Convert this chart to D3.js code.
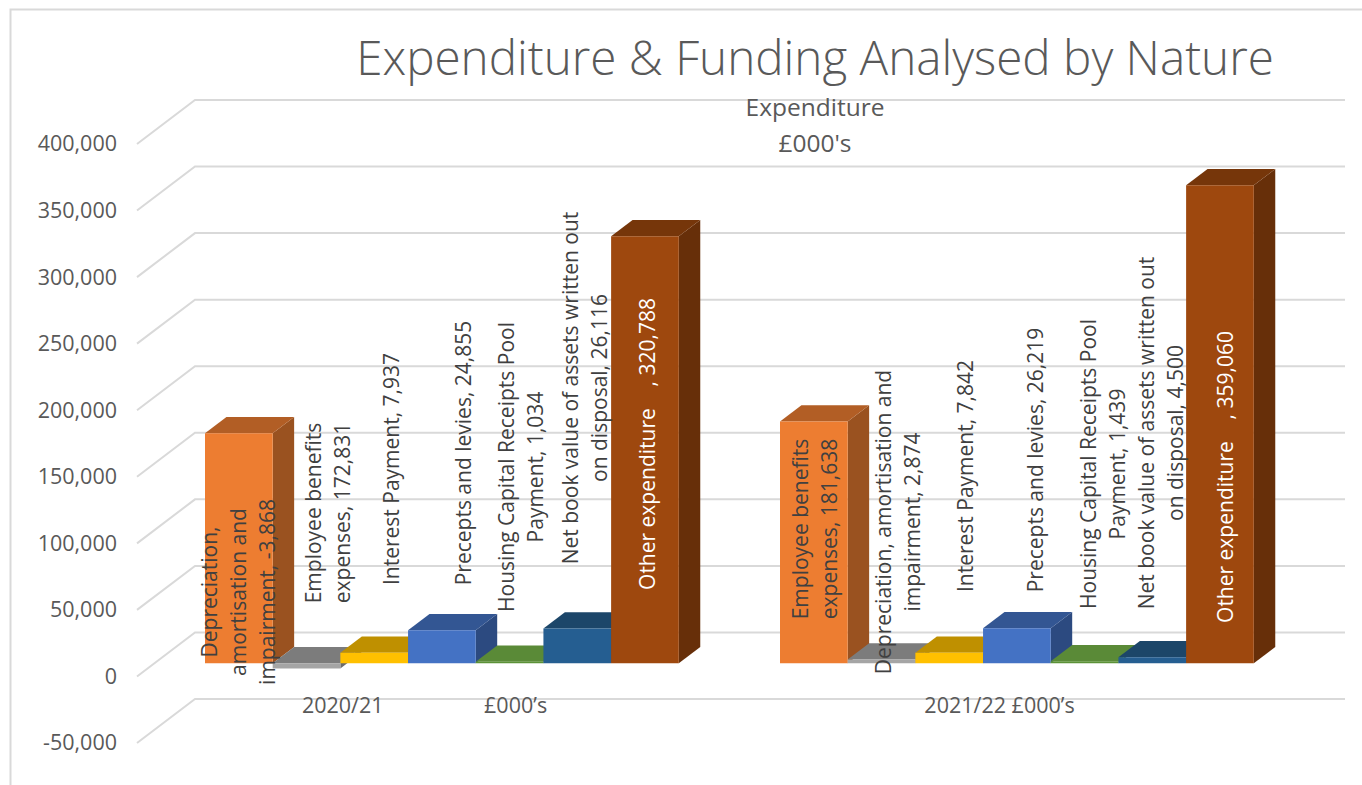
<!DOCTYPE html>
<style>
body { margin: 0; background: #fff; }
svg { display: block; }
text { font-family: "Open Sans", sans-serif; fill: #595959; }
.axis .domain, .axis line { display: none; }
</style>
<svg width="1362" height="785"></svg>
<script src="https://d3js.org/d3.v7.min.js"></script>
<script>

var categories = ["2020/21                  £000’s", "2021/22 £000’s"];
var series = ["Employee benefits", "Depreciation", "Interest", "Precepts", "Housing", "Net book value", "Other"];
var values2021 = [172831, -3868, 7937, 24855, 1034, 26116, 320788];
var values2122 = [181638, 2874, 7842, 26219, 1439, 4500, 359060];
var tickValues = [-50000, 0, 50000, 100000, 150000, 200000, 250000, 300000, 350000, 400000];

// the first two labels of 2020/21 sit on the other bar in the original, kept that way
var labels2021 = [
  ["Depreciation,", "amortisation and", "impairment, -3,868"],
  ["Employee benefits", "expenses, 172,831"],
  ["Interest Payment, 7,937"],
  ["Precepts and levies, 24,855"],
  ["Housing Capital Receipts Pool", "Payment, 1,034"],
  ["Net book value of assets written out", "on disposal, 26,116"],
  ["Other expenditure    , 320,788"]
];
var labels2122 = [
  ["Employee benefits", "expenses, 181,638"],
  ["Depreciation, amortisation and", "impairment, 2,874"],
  ["Interest Payment, 7,842"],
  ["Precepts and levies, 26,219"],
  ["Housing Capital Receipts Pool", "Payment, 1,439"],
  ["Net book value of assets written out", "on disposal, 4,500"],
  ["Other expenditure    , 359,060"]
];

// hand placed labels: x offset from bar centre, y of label centre
var labelDx = [[0, 22, 18, 22, 12, 8, 3], [2, 17, 17, 19, 19, 9, 6]];
var labelY = [[592, 513, 469, 453, 467, 388, 444], [529, 522, 476, 460, 464, 433, 477]];

var frontColors = ["#ed7d31", "#a5a5a5", "#ffc000", "#4472c4", "#5b9237", "#255e91", "#9e480e"];
var topColors = ["#b25e25", "#7c7c7c", "#bf9000", "#335693", "#5a8a37", "#1c4669", "#76360a"];
var sideColors = ["#9a5220", "#6c6c6c", "#a67d00", "#2c4a80", "#4e7830", "#183d5b", "#672f09"];

var svg = d3.select("svg");

var backLeft = 195, backRight = 1345;
var depthX = 58, depthY = 44;   // screen shift from back wall to front of the floor
var zBack = 0.33, zFront = 0.7; // where the bars stand on the floor

var x0 = d3.scaleBand()
    .domain(categories)
    .range([backLeft, backRight])
    .paddingInner(0.176)
    .paddingOuter(0.088);

var x1 = d3.scaleBand()
    .domain(series)
    .range([0, x0.bandwidth()]);

var y = d3.scaleLinear()
    .domain([-50000, 400000])
    .range([699, 100]);

var line = d3.line();

function project(px, v, z) {
  return [px - depthX * z, y(v) + depthY * z];
}

// chart border, the crop loses the right and bottom edges
svg.append("path")
    .attr("d", "M10.5,785V9.5H1362")
    .attr("fill", "none")
    .attr("stroke", "#d9d9d9")
    .attr("stroke-width", 2);

// grid lines, floor part then back wall part
svg.append("g")
  .selectAll("path")
  .data(tickValues)
  .enter().append("path")
    .attr("fill", "none")
    .attr("stroke", "#d9d9d9")
    .attr("stroke-width", 2)
    .attr("d", function(d) {
      return line([project(backLeft, d, 1), project(backLeft, d, 0), project(backRight, d, 0)]);
    });

svg.append("g")
    .attr("class", "axis")
    .attr("transform", "translate(120," + depthY + ")")
    .call(d3.axisLeft(y)
      .tickValues(tickValues)
      .tickFormat(function(d) { return d3.format(",")(d).replace("−", "-"); })
      .tickSize(0))
    .selectAll("text")
    .attr("font-size", 21.5);

[values2021, values2122].forEach(function(values, g) {
  function left(i) { return x0(categories[g]) + x1(series[i]); }
  function right(i) { return left(i) + x1.bandwidth(); }
  function high(d) { return Math.max(d, 0); }
  function low(d) { return Math.min(d, 0); }

  var bars = svg.append("g")
    .selectAll("g")
    .data(values)
    .enter().append("g");

  bars.append("path")
      .attr("fill", function(d, i) { return sideColors[i]; })
      .attr("d", function(d, i) {
        return line([project(right(i), high(d), zFront), project(right(i), high(d), zBack), project(right(i), low(d), zBack), project(right(i), low(d), zFront)]) + "Z";
      });

  bars.append("path")
      .attr("fill", function(d, i) { return topColors[i]; })
      .attr("d", function(d, i) {
        return line([project(left(i), high(d), zFront), project(left(i), high(d), zBack), project(right(i), high(d), zBack), project(right(i), high(d), zFront)]) + "Z";
      });

  bars.append("path")
      .attr("fill", function(d, i) { return frontColors[i]; })
      .attr("d", function(d, i) {
        return line([project(left(i), high(d), zFront), project(right(i), high(d), zFront), project(right(i), low(d), zFront), project(left(i), low(d), zFront)]) + "Z";
      });
});

// data labels go on top of all the bars
[labels2021, labels2122].forEach(function(labels, g) {
  labels.forEach(function(lines, i) {
    var cx = x0(categories[g]) + x1(series[i]) + x1.bandwidth() / 2 - depthX * zFront + labelDx[g][i];
    var t = svg.append("text")
        .attr("transform", "translate(" + cx + "," + labelY[g][i] + ") rotate(-90)")
        .attr("text-anchor", "middle")
        .attr("font-size", 21)
        .style("white-space", "pre")
        .style("fill", i == 6 ? "#fff" : "#404040");
    lines.forEach(function(s, k) {
      t.append("tspan")
          .attr("x", 0)
          .attr("y", (k - (lines.length - 1) / 2) * 29 + 7)
          .text(s);
    });
  });
});

var xAxis = svg.append("g")
    .attr("class", "axis")
    .attr("transform", "translate(" + (-depthX) + ",695)")
    .call(d3.axisBottom(x0).tickSize(0));
xAxis.selectAll("text")
    .attr("font-size", 21.5)
    .style("white-space", "pre");

svg.append("text")
    .attr("x", 815)
    .attr("y", 75)
    .attr("text-anchor", "middle")
    .attr("font-size", 47.6)
    .attr("font-weight", 300)
    .text("Expenditure & Funding Analysed by Nature");

svg.append("text")
    .attr("x", 815)
    .attr("y", 116)
    .attr("text-anchor", "middle")
    .attr("font-size", 24.5)
    .attr("font-weight", 500)
    .text("Expenditure");

svg.append("text")
    .attr("x", 815)
    .attr("y", 152)
    .attr("text-anchor", "middle")
    .attr("font-size", 24.5)
    .attr("font-weight", 500)
    .text("£000's");

</script>
